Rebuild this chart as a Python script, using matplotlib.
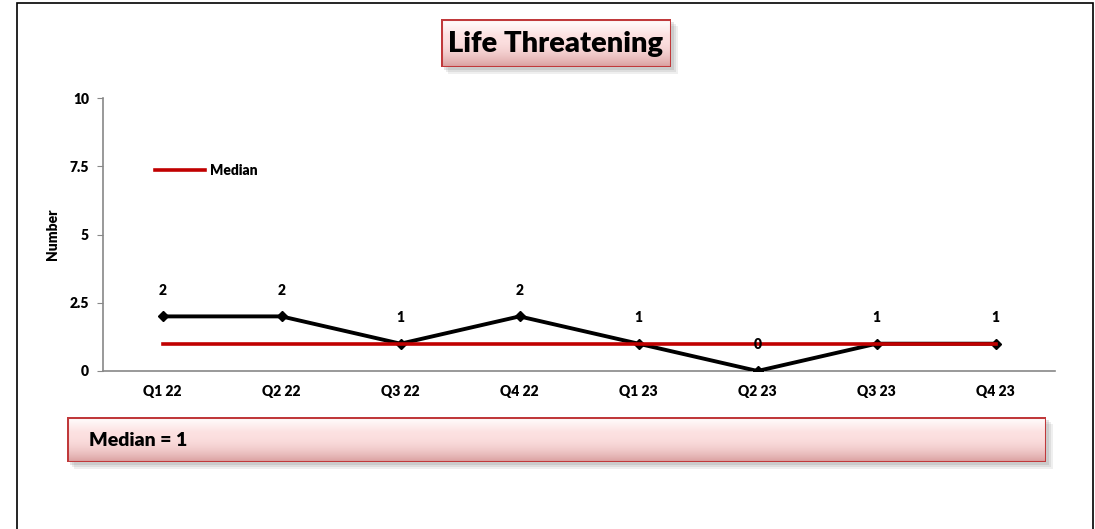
import numpy as np
import matplotlib.pyplot as plt
from matplotlib.patches import Rectangle

plt.rcParams['font.family'] = ['Lato', 'DejaVu Sans']

quarters = ["Q1 22", "Q2 22", "Q3 22", "Q4 22", "Q1 23", "Q2 23", "Q3 23", "Q4 23"]
counts = [2, 2, 1, 2, 1, 0, 1, 1]
median = [1, 1, 1, 1, 1, 1, 1, 1]
y_ticks = [0, 2.5, 5, 7.5, 10]
y_tick_labels = ["0", "2.5", "5", "7.5", "10"]

W, H = 1095, 529
BOLD = "heavy"
fig = plt.figure(figsize=(W / 100, H / 100), dpi=100)

# outer frame
fig.patches.append(Rectangle((17 / W, -0.01), (1093 - 17) / W, 1 - 3 / H + 0.01,
                             transform=fig.transFigure, fill=False,
                             edgecolor="black", lw=1.2))


def shaded_box(x0, y0, x1, y1, text, fontsize, text_x=None):
    """Pink bevelled box in pixel coords (y from top)."""
    # soft shadow
    for k, a in [(7, 0.12), (5, 0.15), (3, 0.2)]:
        sh = fig.add_axes([(x0 + k) / W, 1 - (y1 + k) / H, (x1 - x0) / W, (y1 - y0) / H])
        sh.set_axis_off()
        sh.add_patch(Rectangle((0, 0), 1, 1, color="#808080", alpha=a, lw=0))
    ax = fig.add_axes([x0 / W, 1 - y1 / H, (x1 - x0) / W, (y1 - y0) / H])
    ax.set_axis_off()
    grad = np.linspace(0, 1, 100)[:, None]
    top = np.array([1.0, 1.0, 1.0])
    mid = np.array([0.99, 0.88, 0.88])
    bot = np.array([0.85, 0.62, 0.62])
    col = np.where(grad[..., None] < 0.35,
                   top + (mid - top) * (grad[..., None] / 0.35),
                   mid + (bot - mid) * ((grad[..., None] - 0.35) / 0.65) ** 2)
    ax.imshow(np.repeat(col, 2, axis=1), aspect="auto", extent=(0, 1, 0, 1),
              origin="upper")
    ax.add_patch(Rectangle((0, 0), 1, 1, fill=False, edgecolor="#c0393b", lw=2.2))
    ax.set_xlim(0, 1)
    ax.set_ylim(0, 1)
    if text_x is None:
        ax.text(0.5, 0.48, text, ha="center", va="center", fontsize=fontsize,
                fontweight=BOLD)
    else:
        ax.text(text_x, 0.48, text, ha="left", va="center", fontsize=fontsize,
                fontweight=BOLD)


shaded_box(441, 19, 671, 67, "Life Threatening", 21)
shaded_box(67, 417, 1046, 462, "Median = 1", 14, text_x=0.022)

# main plot
ax = fig.add_axes([103 / W, 1 - 371 / H, (1055 - 103) / W, (371 - 98) / H])
x = np.arange(len(quarters))
ax.plot(x, counts, color="black", lw=2.8, marker="D", markersize=5, zorder=3)
ax.plot(x, median, color="#c00000", lw=2.6, zorder=4, label="Median")

for xi, c in zip(x, counts):
    ax.annotate(str(c), (xi, c), xytext=(0, 19), textcoords="offset points",
                ha="center", va="center", fontsize=10, fontweight=BOLD,
                zorder=6)

ax.set_xlim(-0.5, len(quarters) - 0.5)
ax.set_ylim(0, 10)
ax.set_xticks(x)
ax.set_xticklabels(quarters, fontsize=10, fontweight=BOLD)
ax.set_yticks(y_ticks)
ax.set_yticklabels(y_tick_labels, fontsize=10, fontweight=BOLD)
ax.tick_params(axis="x", length=0, pad=10)
ax.tick_params(axis="y", length=4, color="#888888", pad=6)
for s in ["top", "right"]:
    ax.spines[s].set_visible(False)
for s in ["left", "bottom"]:
    ax.spines[s].set_color("#888888")
    ax.spines[s].set_linewidth(1.2)
ax.set_ylabel("Number", fontsize=10, fontweight=BOLD, labelpad=8)

ax.legend(loc="upper left", bbox_to_anchor=(0.041, 0.805), frameon=False,
          prop={"size": 10, "weight": BOLD}, handlelength=3.6,
          handletextpad=0.4)

fig.savefig("out.png", dpi=100)
